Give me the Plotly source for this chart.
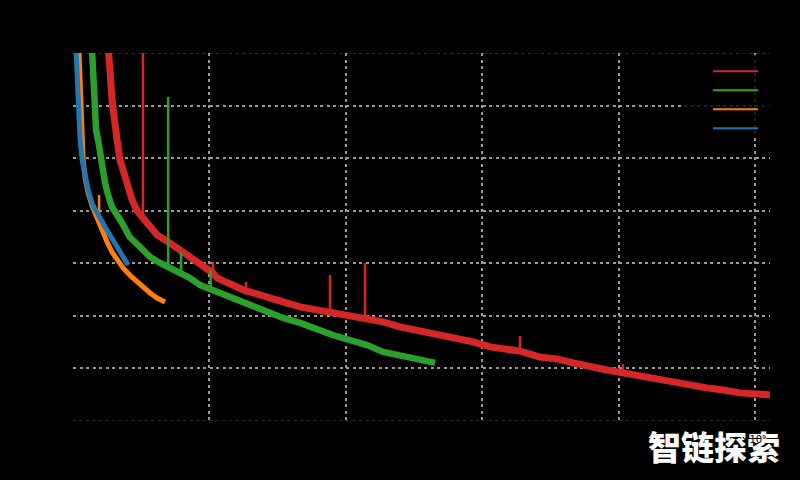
import plotly.graph_objects as go

# ---------------- data ----------------
series_names = ["124M", "350M", "774M", "1558M"]
series_colors = ["#d62728", "#2ca02c", "#ff7f0e", "#1f77b4"]

red_x = [0.256,0.260,0.275,0.289,0.304,0.326,0.348,0.377,0.407,0.436,0.473,0.516,0.568,0.619,0.714,0.810,0.912,0.971,1.029,1.059,
         1.176,1.271,1.300,1.425,1.542,1.667,1.791,1.886,2.033,2.143,2.275,2.399,2.524,2.641,2.751,2.934,3.059,3.183,3.278,3.425,
         3.549,3.667,3.791,3.916,4.033,4.165,4.286,4.400,4.524,4.648,4.766,4.890,5.015,5.110]
red_y = [3.449,3.400,3.328,3.221,3.145,3.069,2.993,2.936,2.886,2.841,2.799,2.772,2.734,2.708,2.677,2.643,2.605,2.582,2.563,2.544,
         2.514,2.494,2.491,2.468,2.453,2.434,2.422,2.415,2.403,2.392,2.377,2.358,2.346,2.335,2.320,2.301,2.282,2.274,2.266,2.243,
         2.236,2.221,2.205,2.194,2.183,2.171,2.160,2.145,2.133,2.126,2.118,2.107,2.103,2.099]
red_spike_x = [0.516, 1.029, 1.271, 1.886, 2.143, 3.278, 4.033]
red_spike_base = [2.772, 2.563, 2.494, 2.415, 2.392, 2.266, 2.183]
red_spike_top = [3.550, 2.605, 2.529, 2.555, 2.601, 2.323, 2.217]

green_x = [0.139,0.143,0.150,0.158,0.172,0.187,0.216,0.238,0.260,0.289,0.363,0.418,0.495,0.568,0.641,0.700,0.714,0.795,0.861,0.934,
           1.007,1.059,1.176,1.300,1.425,1.542,1.667,1.791,1.908,2.033,2.157,2.275,2.399,2.524,2.641,2.656]
green_y = [3.449,3.400,3.297,3.195,3.107,3.069,2.963,2.905,2.860,2.814,2.753,2.700,2.662,2.624,2.601,2.586,2.582,2.555,2.544,2.517,
           2.502,2.487,2.464,2.441,2.415,2.392,2.373,2.346,2.327,2.308,2.289,2.263,2.251,2.240,2.224,2.221]
green_spike_x = [0.700, 0.795, 1.012]
green_spike_base = [2.586, 2.555, 2.502]
green_spike_top = [3.233, 2.643, 2.574]

orange_x = [0.044,0.048,0.055,0.070,0.077,0.092,0.114,0.143,0.172,0.194,0.223,0.253,0.289,0.326,0.370,0.425,0.495,0.568,0.619,0.678]
orange_y = [3.449,3.400,3.271,3.080,2.993,2.924,2.867,2.818,2.780,2.757,2.719,2.681,2.643,2.613,2.582,2.552,2.517,2.487,2.468,2.453]
orange_spike_x = [0.194]
orange_spike_base = [2.757]
orange_spike_top = [2.860]

blue_x = [0.022,0.026,0.033,0.040,0.055,0.070,0.092,0.114,0.143,0.172,0.201,0.238,0.275,0.311,0.348,0.377,0.407]
blue_y = [3.449,3.400,3.297,3.183,3.069,2.993,2.928,2.879,2.826,2.795,2.772,2.738,2.708,2.677,2.643,2.620,2.593]

y_ticks = [2.0, 2.2, 2.4, 2.6, 2.8, 3.0, 3.2, 3.4]
x_ticks = [1, 2, 3, 4, 5]
y_range = [2.0, 3.4]
x_range = [0.003, 5.11]

# ---------------- figure ----------------
def spikes(xs, base, top):
    sx, sy = [], []
    for x, b, t in zip(xs, base, top):
        sx += [x, x, None]
        sy += [b, t, None]
    return sx, sy

fig = go.Figure()
groups = [
    (red_x, red_y, (red_spike_x, red_spike_base, red_spike_top), 7),
    (green_x, green_y, (green_spike_x, green_spike_base, green_spike_top), 6.5),
    (orange_x, orange_y, (orange_spike_x, orange_spike_base, orange_spike_top), 5),
    (blue_x, blue_y, None, 5),
]
for (xs, ys, sp, w), name, color in zip(groups, series_names, series_colors):
    fig.add_trace(go.Scatter(x=xs, y=ys, mode="lines", name=name, legendgroup=name,
                             showlegend=False, line=dict(color=color, width=w)))
    if sp is not None:
        sx, sy = spikes(*sp)
        fig.add_trace(go.Scatter(x=sx, y=sy, mode="lines", showlegend=False, legendgroup=name,
                                 line=dict(color=color, width=2.5)))
# legend entries with thin handles
for name, color in zip(series_names, series_colors):
    fig.add_trace(go.Scatter(x=[None], y=[None], mode="lines", name=name, legendgroup=name,
                             line=dict(color=color, width=2)))

GRID_DASH = "3px,3.5px"
grid = dict(showgrid=True, gridcolor="#9a9a9a", gridwidth=1.6, griddash=GRID_DASH,
            zeroline=False, showline=False, ticks="", tickfont=dict(color="black", size=11))

fig.update_xaxes(range=x_range, tickvals=x_ticks, title=dict(text="Tokens", font=dict(color="black")), **grid)
fig.update_yaxes(range=y_range, tickvals=y_ticks, title=dict(text="Loss", font=dict(color="black")), **grid)

# dim grid lines lying under the top/bottom spines
for yv in (y_range[0], y_range[1]):
    fig.add_shape(type="line", xref="paper", yref="y", x0=0, x1=1, y0=yv, y1=yv, layer="below",
                  line=dict(color="#3c3c3c", width=1.6, dash=GRID_DASH))
# semi-transparent legend frame
fig.add_shape(type="rect", xref="paper", yref="paper", x0=0.874, x1=1.03, y0=0.772, y1=0.995,
              layer="above", line=dict(width=0), fillcolor="rgba(0,0,0,0.8)")

fig.update_layout(
    width=800, height=480,
    paper_bgcolor="black", plot_bgcolor="black",
    margin=dict(l=73, r=30, t=53, b=59, autoexpand=False),
    font=dict(family="DejaVu Sans", color="black"),
    legend=dict(x=0.911, y=0.990, xanchor="left", yanchor="top",
                bgcolor="rgba(0,0,0,0)", font=dict(color="black", size=10),
                itemwidth=45, tracegroupgap=0),
    annotations=[
        dict(text="智链探索", xref="paper", yref="paper", x=0.920, y=-0.068,
             xanchor="center", yanchor="middle", showarrow=False,
             font=dict(family="Noto Sans CJK SC", size=33, color="white", weight=900)),
        dict(text="×10⁹", xref="paper", yref="paper", x=0.976, y=-0.049,
             xanchor="center", yanchor="middle", showarrow=False,
             font=dict(size=10, color="black")),
    ],
)

fig.write_html("out.html", config={"displayModeBar": False},
               post_script="document.body.style.margin='0';document.body.style.background='black';")
